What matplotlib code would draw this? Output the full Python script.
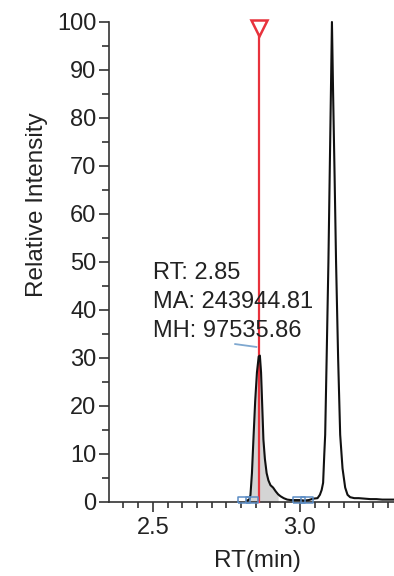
import matplotlib
matplotlib.use("Agg")
import matplotlib.pyplot as plt
from matplotlib.ticker import MultipleLocator

plt.rcParams['font.family'] = ['Liberation Sans', 'DejaVu Sans']

# Chromatogram trace (RT in min, relative intensity %)
rt = [2.820, 2.828, 2.832, 2.837, 2.842, 2.848, 2.854, 2.860, 2.864, 2.868,
      2.872, 2.876, 2.881, 2.887, 2.893, 2.900, 2.909, 2.918, 2.926, 2.934,
      2.945, 2.957, 2.970, 2.985, 3.000, 3.015, 3.030, 3.046, 3.060, 3.068,
      3.074, 3.079, 3.083, 3.086, 3.091, 3.097, 3.103, 3.109, 3.113, 3.118,
      3.123, 3.130, 3.137, 3.145, 3.154, 3.162, 3.171, 3.185, 3.200, 3.220,
      3.240, 3.260, 3.280, 3.300, 3.320]
intensity = [0.3, 0.5, 1.5, 6, 13, 21, 27, 30.3, 30.5, 27,
             20, 13, 9, 6, 4.5, 3.5, 3.0, 2.2, 1.6, 1.2,
             0.8, 0.5, 0.4, 0.4, 0.4, 0.3, 0.4, 0.7, 0.8, 1.5,
             2.5, 4, 10, 14, 30, 50, 75, 100, 85, 68,
             50, 30, 14, 7, 3, 1.5, 1.0, 0.8, 0.8, 0.7,
             0.6, 0.6, 0.5, 0.5, 0.5]

# Integrated peak window
area_start, area_end = 2.832, 2.930

# Peak boundary markers
boundary_rt = [2.811, 2.838, 2.998, 3.025]
boundary_y = [0.4, 0.4, 0.4, 0.4]

# Apex marker
marker_rt = 2.860
marker_top = 98.7

# Annotation
ann_lines = ["RT: 2.85", "MA: 243944.81", "MH: 97535.86"]
ann_x = 2.50
ann_y = [47.7, 41.6, 35.6]
leader_x = [2.780, 2.852]
leader_y = [32.9, 32.3]

FS = 17

fig = plt.figure(figsize=(3.94, 5.76), dpi=100)
ax = fig.add_axes([109/394, 1 - 502/576, 285/394, 480/576])

# shaded area
xs = [x for x in rt if area_start <= x <= area_end]
ys = [y for x, y in zip(rt, intensity) if area_start <= x <= area_end]
ax.fill_between(xs, 0, ys, color='#d4d4d4', zorder=1, linewidth=0)

# red apex line
ax.plot([marker_rt, marker_rt], [0, marker_top], color='#e8323c', lw=1.6,
        zorder=3, clip_on=False)
ax.plot([marker_rt], [marker_top], marker='v', ms=11, mfc='white',
        mec='#e8323c', mew=1.8, zorder=4, clip_on=False)

# trace
ax.plot(rt, intensity, color='#111111', lw=1.5, zorder=5, clip_on=False)

# boundary markers (hollow blue rectangles)
rect = [(-1, -0.55), (1, -0.55), (1, 0.55), (-1, 0.55), (-1, -0.55)]
ax.plot(boundary_rt, boundary_y, linestyle='none', marker=rect, ms=9,
        mfc='none', mec='#5b8cc4', mew=1.1, zorder=6, clip_on=False)

# leader line
ax.plot(leader_x, leader_y, color='#7fa8d0', lw=1.3, zorder=6)

for s, y in zip(ann_lines, ann_y):
    ax.text(ann_x, y, s, ha='left', va='center', fontsize=FS, color='#222222',
            zorder=7)

ax.set_xlim(2.351, 3.32)
ax.set_ylim(0, 100)

ax.xaxis.set_major_locator(MultipleLocator(0.5))
ax.xaxis.set_minor_locator(MultipleLocator(0.05))
ax.yaxis.set_major_locator(MultipleLocator(10))
ax.yaxis.set_minor_locator(MultipleLocator(5))

for side in ['top', 'right']:
    ax.spines[side].set_visible(False)
for side in ['left', 'bottom']:
    ax.spines[side].set_linewidth(1.2)
    ax.spines[side].set_color('#333333')

ax.tick_params(axis='both', which='major', labelsize=FS, colors='#333333',
               labelcolor='#222222', width=1.2)
ax.tick_params(axis='x', which='major', length=7.5, pad=3)
ax.tick_params(axis='x', which='minor', length=4.5, width=1.2, colors='#333333')
ax.tick_params(axis='y', which='major', length=7, pad=2)
ax.tick_params(axis='y', which='minor', length=5, width=1.2, colors='#333333')

ax.set_xticks([2.5, 3.0])
ax.set_xticklabels(['2.5', '3.0'])

ax.set_xlabel('RT(min)', fontsize=17.5, color='#222222')
ax.set_ylabel('Relative Intensity', fontsize=17.5, color='#222222')
ax.xaxis.set_label_coords(0.521, -0.10)
ax.yaxis.set_label_coords(-0.213, 0.62)

fig.savefig('out.png', dpi=100)
